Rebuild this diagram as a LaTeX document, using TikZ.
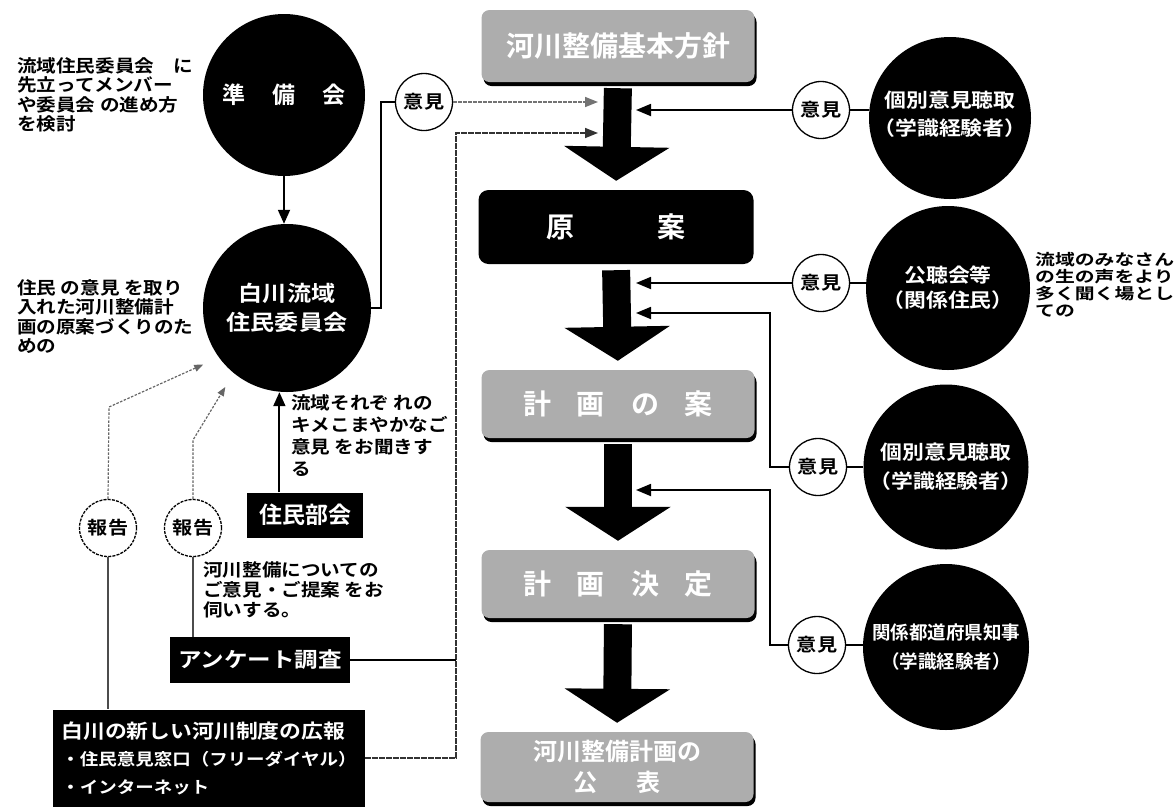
\documentclass[tikz,border=0pt]{standalone}
\usepackage{fontspec}
\newfontfamily\jp[FakeStretch=1.12]{Noto Sans CJK JP Bold}
\newfontfamily\jpw[FakeStretch=1.28]{Noto Sans CJK JP Bold}
\newfontfamily\jpn{Noto Sans CJK JP Bold}
\usetikzlibrary{arrows.meta,calc,shadows}
\tikzset{
  blk/.style={circle, fill=black, text=white, inner sep=0pt, align=center},
  opc/.style={circle, draw=black, line width=1.3pt, fill=white, inner sep=0pt,
    minimum size=57pt, font=\jp\fontsize{18}{18}\selectfont},
  rep/.style={opc, dash pattern=on 3pt off 1.2pt},
  note/.style={anchor=north west, inner sep=0pt, align=left,
    font=\jp\fontsize{17.5}{19.5}\selectfont},
  darkbox/.style={rectangle, fill=black, text=white, inner sep=0pt, align=left},
  graybox/.style={rectangle, rounded corners=8pt, fill=black!32, text=white,
    minimum width=273pt, inner sep=0pt, align=center,
    drop shadow={shadow xshift=2pt, shadow yshift=-4pt, fill=black, opacity=1},
    font=\jpn\fontsize{28}{34}\selectfont},
  bigarr/.style={line width=28pt, -{Triangle[length=34pt,width=104pt]},
    shorten <=6pt, shorten >=9pt},
  bline/.style={draw=black, line width=1.8pt},
  tipR/.style={-{Triangle[length=15pt,width=12pt]}},
  gline/.style={draw=black!55, line width=1.5pt, dash pattern=on 4pt off 1pt,
    -{Triangle[length=13pt,width=10pt]}},
  rline/.style={draw=black!60, line width=1.2pt, dash pattern=on 2.5pt off 1.5pt,
    -{Triangle[length=9pt,width=7pt]}}
}
\begin{document}
\begin{tikzpicture}[x=1pt,y=-1pt]
\useasboundingbox (0,0) rectangle (1176,807);

% ---------- centre column ----------
\node[graybox, minimum height=72pt] (b1) at (618,46) {河川整備基本方針};
\node[rectangle, rounded corners=10pt, fill=black, text=white, minimum width=275pt,
  minimum height=74pt, inner sep=0pt, font=\jpn\fontsize{28}{28}\selectfont]
  (b2) at (616,227) {原\hspace{83pt}案};
\node[graybox, minimum height=68pt] (b3) at (618,404) {計\hspace{26pt}画\hspace{26pt}の\hspace{26pt}案};
\node[graybox, minimum height=68pt] (b4) at (618,584) {計\hspace{26pt}画\hspace{26pt}決\hspace{26pt}定};
\node[graybox, minimum height=70pt, font=\jpn\fontsize{24}{31}\selectfont] (b5) at (617,767)
  {河川整備計画の\\公\hspace{40pt}表};

\draw[bigarr] (b1.south) -- (b2.north);
\draw[bigarr] (b2.south) -- (b3.north);
\draw[bigarr] (b3.south) -- (b4.north);
\draw[bigarr] (b4.south) -- (b5.north);

% ---------- left side ----------
\node[blk, minimum size=162pt, font=\jpn\fontsize{23}{23}\selectfont] (jb) at (284,95)
  {準\hspace{27pt}備\hspace{27pt}会};
\node[blk, minimum size=168pt, font=\jp\fontsize{21.5}{29}\selectfont] (iin) at (287,308)
  {白川流域\\住民委員会};

\node[note] (n1) at (17,57) {流域住民委員会　に\\先立ってメンバー\\や委員会 の進め方\\を検討};
\node[note] (n2) at (17,279) {住民 の意見 を取り\\入れた河川整備計\\画の原案づくりのた\\めの};
\node[note, font=\jp\fontsize{17.5}{22}\selectfont] (n3) at (291,394)
  {流域それぞ れの\\キメこまやかなご\\意見 をお聞きす\\る};
\node[note, font=\jp\fontsize{17.5}{20}\selectfont] (n4) at (203,561)
  {河川整備についての\\ご意見・ご提案 をお\\伺いする。};

\node[darkbox, minimum width=116pt, minimum height=45pt, align=center,
  font=\jpn\fontsize{23}{23}\selectfont] (bukai) at (305,515) {住民部会};
\node[darkbox, minimum width=180pt, minimum height=46pt, align=center,
  font=\jp\fontsize{21}{21}\selectfont] (anketo) at (260,660) {アンケート調査};
\node[darkbox, minimum width=308pt, minimum height=97pt, inner xsep=8pt,
  font=\jp\fontsize{19.5}{27.5}\selectfont] (koho) at (209,758)
  {白川の新しい河川制度の広報\\{\fontsize{16.5}{27.5}\selectfont ・住民意見窓口（フリーダイヤル）}\\{\fontsize{16.5}{27.5}\selectfont ・インターネット}};

\node[opc] (op0) at (424,102) {意見};
\node[rep] (hk1) at (108,528) {報告};
\node[rep] (hk2) at (193,528) {報告};

\coordinate (inL1) at (598,102);
\coordinate (inL2) at (598,133);
\coordinate (bus) at (456,133);
\coordinate (hk1b) at (109,407);
\coordinate (hk2b) at (193,440);
\coordinate (bkt) at ($(bukai.north west)!0.28!(bukai.north east)$);

\draw[bline, -{Triangle[length=14pt,width=12pt]}] (jb.south) -- (jb.south |- iin.north);
\draw[bline, -{Triangle[length=14pt,width=12pt]}] (bkt) -- (bkt |- iin.south);
\draw[bline, line width=1.6pt] (iin.east) -- ($(iin.east)+(10,0)$) |- (op0.west);
\draw[gline] (op0.east) -- (inL1);
\draw[gline, draw=black!80, dash pattern=on 6pt off 1pt] (koho.east) -| (bus) -- (inL2);
\draw[bline, line width=1.6pt] (anketo.east) -- (anketo.east -| bus);

\draw[rline] (hk1.north) -- (hk1b) -- ($(iin.214)!-0.2!(iin.center)$);
\draw[rline] (hk2.north) -- (hk2b) -- ($(iin.232)!-0.19!(iin.center)$);
\draw[draw=black!70, line width=1.3pt] (hk1.south) -- (hk1.south |- koho.north);
\draw[draw=black!70, line width=1.3pt] (hk2.south) -- (hk2.south |- anketo.north);

% ---------- right side ----------
\node[blk, minimum size=162pt, font=\jp\fontsize{19.5}{29}\selectfont] (k1) at (950,118)
  {\raisebox{10pt}{\shortstack{個別意見聴取\\[6pt]（学識経験者）}}};
\node[blk, minimum size=164pt, font=\jp\fontsize{19.5}{25}\selectfont] (k2) at (948,288)
  {公聴会等\\（関係住民）};
\node[blk, minimum size=165pt, font=\jp\fontsize{19.5}{29}\selectfont] (k3) at (946,467)
  {個別意見聴取\\（学識経験者）};
\node[blk, minimum size=166pt, font=\jpn\fontsize{18.5}{29}\selectfont] (k4) at (946,647)
  {関係都道府県知事\\（学識経験者）};

\node[opc] (op1) at (821,110) {意見};
\node[opc] (op2) at (821,283) {意見};
\node[opc] (op3) at (818,467) {意見};
\node[opc] (op4) at (817,645) {意見};

\node[note, font=\jpw\fontsize{15.5}{17.2}\selectfont] (n5) at (1035,252)
  {流域のみなさん\\の生の声をより\\多く聞く場とし\\ての};

\coordinate (inR1) at (636,110);
\coordinate (inR2) at (636,284);
\coordinate (inR3) at (636,313);
\coordinate (inR4) at (636,490);
\coordinate (busR3) at (770,313);
\coordinate (busR4) at (770,490);

\draw[bline, tipR] (op1.west) -- (op1.west -| inR1);
\draw[bline, tipR] (op2.west) -- (op2.west -| inR2);
\draw[bline, tipR] (op3.west) -| (busR3) -- (inR3);
\draw[bline, tipR] (op4.west) -| (busR4) -- (inR4);
\draw[bline] (op1.east) -- (op1.east -| k1.west);
\draw[bline] (op2.east) -- (op2.east -| k2.west);
\draw[bline] (op3.east) -- (op3.east -| k3.west);
\draw[bline] (op4.east) -- (op4.east -| k4.west);
\end{tikzpicture}
\end{document}
